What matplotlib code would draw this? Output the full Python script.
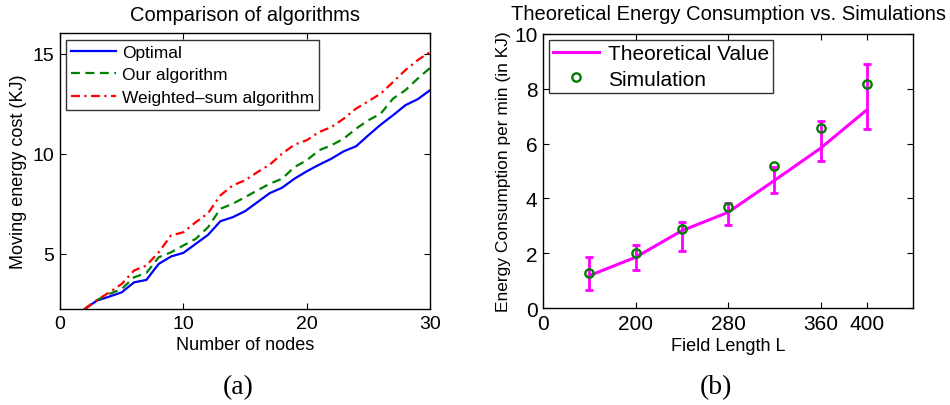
import matplotlib
matplotlib.use("Agg")
import matplotlib.pyplot as plt

plt.rcParams["font.family"] = ["Liberation Sans", "DejaVu Sans"]

# (a) moving energy cost vs number of nodes
nodes = list(range(2, 31))
optimal = [2.25, 2.67, 2.87, 3.08, 3.58, 3.70, 4.50, 4.87, 5.05, 5.50, 5.95, 6.63, 6.83, 7.13,
           7.58, 8.03, 8.30, 8.75, 9.12, 9.45, 9.75, 10.12, 10.37, 10.92, 11.45, 11.92, 12.42,
           12.72, 13.17]
ours = [2.25, 2.70, 3.00, 3.25, 3.83, 4.05, 4.83, 5.08, 5.42, 5.75, 6.33, 7.25, 7.50, 7.83,
        8.17, 8.50, 8.75, 9.33, 9.67, 10.17, 10.42, 10.75, 11.25, 11.67, 12.00, 12.75, 13.17,
        13.75, 14.28]
weighted = [2.25, 2.70, 3.08, 3.50, 4.17, 4.42, 5.08, 5.92, 6.08, 6.58, 7.03, 7.92, 8.42, 8.67,
            9.08, 9.45, 10.00, 10.45, 10.67, 11.08, 11.33, 11.75, 12.25, 12.62, 13.00, 13.58,
            14.17, 14.67, 15.08]

# (b) theoretical energy vs simulation
pos = [1, 2, 3, 4, 5, 6, 7]
theory = [1.18, 1.85, 2.82, 3.49, 4.65, 5.83, 7.23]
sim = [1.28, 2.02, 2.88, 3.70, 5.19, 6.58, 8.19]
err_low = [0.67, 1.37, 2.08, 3.03, 4.20, 5.38, 6.54]
err_high = [1.85, 2.31, 3.13, 3.83, 5.13, 6.84, 8.89]
tick_pos = [0, 2, 4, 6, 7]
tick_lab = ["0", "200", "280", "360", "400"]

fig = plt.figure(figsize=(9.5, 4.06), dpi=100)

# --- (a)
ax1 = fig.add_axes([0.0632, 0.2365, 0.3895, 0.6786])
ax1.plot(nodes, optimal, "-", color="#0000ff", lw=1.6, label="Optimal")
ax1.plot(nodes, ours, "--", color="#008000", lw=1.6, dashes=(4, 2.5), label="Our algorithm")
ax1.plot(nodes, weighted, "-.", color="#ff0000", lw=1.6, dashes=(4, 2, 1, 2),
         label="Weighted\u2013sum algorithm")
ax1.set_xlim(0, 30)
ax1.set_ylim(2.25, 16)
ax1.set_xticks([0, 10, 20, 30])
ax1.set_yticks([5, 10, 15])
ax1.set_title("Comparison of algorithms", fontsize=14.5, pad=10)
ax1.set_xlabel("Number of nodes", fontsize=13, labelpad=3)
ax1.set_ylabel("Moving energy cost (KJ)", fontsize=13, labelpad=4)
leg1 = ax1.legend(loc="upper left", fontsize=12.5, frameon=True, fancybox=False,
                  borderaxespad=0.35, handlelength=2.6, borderpad=0.3, labelspacing=0.42,
                  handletextpad=0.3)
leg1.get_frame().set_edgecolor("black")
leg1.get_frame().set_linewidth(1.0)

# --- (b)
ax2 = fig.add_axes([0.5716, 0.2389, 0.3895, 0.675])
lower = [t - l for t, l in zip(theory, err_low)]
upper = [h - t for t, h in zip(theory, err_high)]
ax2.errorbar(pos, theory, yerr=[lower, upper], fmt="none", ecolor="#ff00ff",
             elinewidth=2, capsize=3, capthick=2)
ax2.plot(pos, theory, "-", color="#ff00ff", lw=2.2, label="Theoretical Value")
ax2.plot(pos, sim, "o", mfc="none", mec="#008000", mew=1.7, ms=6, label="Simulation")
ax2.set_xlim(0, 8)
ax2.set_ylim(0, 10)
ax2.set_xticks(tick_pos)
ax2.set_xticklabels(tick_lab)
ax2.set_yticks([0, 2, 4, 6, 8, 10])
ax2.set_title("Theoretical Energy Consumption vs. Simulations", fontsize=14.5, pad=11)
ax2.set_xlabel("Field Length L", fontsize=13, labelpad=3)
ax2.set_ylabel("Energy Consumption per min (in KJ)", fontsize=12.5, labelpad=2)
leg2 = ax2.legend(loc="upper left", fontsize=15, frameon=True, fancybox=False,
                  borderaxespad=0.3, handlelength=2.2, borderpad=0.2, labelspacing=0.3,
                  handletextpad=0.4)
leg2.get_frame().set_edgecolor("black")
leg2.get_frame().set_linewidth(1.0)

for ax, fs in ((ax1, 14), (ax2, 15)):
    ax.tick_params(direction="in", top=True, right=True, length=4, width=0.8,
                   labelsize=fs, pad=4)
    for s in ax.spines.values():
        s.set_linewidth(1.0)

fig.text(0.2505, 0.045, "(a)", fontsize=20, family="Liberation Serif", ha="center", va="center")
fig.text(0.754, 0.045, "(b)", fontsize=20, family="Liberation Serif", ha="center", va="center")

fig.savefig("out.png", dpi=100)
